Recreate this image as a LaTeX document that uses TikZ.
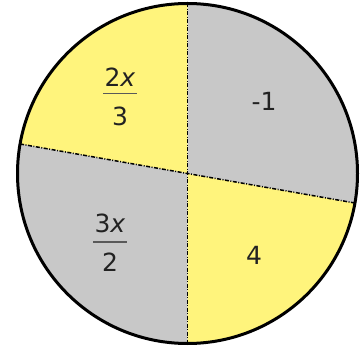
\documentclass[tikz,border=0pt]{standalone}
\usepackage{fontspec}
\setmainfont{DejaVu Sans}
\usetikzlibrary{calc}
\definecolor{pieyellow}{HTML}{FFF47C}
\definecolor{piegrey}{HTML}{C8C8C8}
\definecolor{txt}{HTML}{222222}
\tikzset{
  divider/.style={black, line width=1.5pt, dash pattern=on 4pt off 1.5pt on 1pt off 1.5pt},
  rim/.style={black, line width=3pt},
  lbl/.style={text=txt, font=\fontsize{25}{28}\selectfont, inner sep=0pt},
  fracbar/.style={draw=txt!75, line width=1.8pt}
}
\begin{document}
\begin{tikzpicture}[x=1pt,y=1pt]
\useasboundingbox (0,0) rectangle (361,356);
\def\R{170}
\coordinate (C) at (187.5,182.5);
% sectors
\fill[pieyellow] (C) -- ++(90:\R) arc[start angle=90,end angle=170,radius=\R] -- cycle;
\fill[piegrey] (C) -- ++(170:\R) arc[start angle=170,end angle=270,radius=\R] -- cycle;
\fill[pieyellow] (C) -- ++(270:\R) arc[start angle=270,end angle=350,radius=\R] -- cycle;
\fill[piegrey] (C) -- ++(-10:\R) arc[start angle=-10,end angle=90,radius=\R] -- cycle;
% dividers
\coordinate (T) at ($(C)+(90:\R)$);
\coordinate (B) at ($(C)+(270:\R)$);
\coordinate (L) at ($(C)+(170:\R)$);
\coordinate (Rr) at ($(C)+(-10:\R)$);
\draw[divider] (T) -- (B);
\draw[divider] (L) -- (Rr);
% rim
\draw[rim] (C) circle[radius=\R];
% labels
\node[lbl] (n1) at (120,279) {2\textit{x}};
\node[lbl] (d1) at (120,240) {3};
\coordinate (b1l) at (103,262.5);
\coordinate (b1r) at (137,262.5);
\draw[fracbar] (b1l) -- (b1r);
\node[lbl] (n2) at (110,133) {3\textit{x}};
\node[lbl] (d2) at (110,94) {2};
\coordinate (b2l) at (93,114);
\coordinate (b2r) at (127,114);
\draw[fracbar] (b2l) -- (b2r);
\node[lbl] (m1) at (264,255) {-1};
\node[lbl] (f4) at (254,101) {4};
\end{tikzpicture}
\end{document}
